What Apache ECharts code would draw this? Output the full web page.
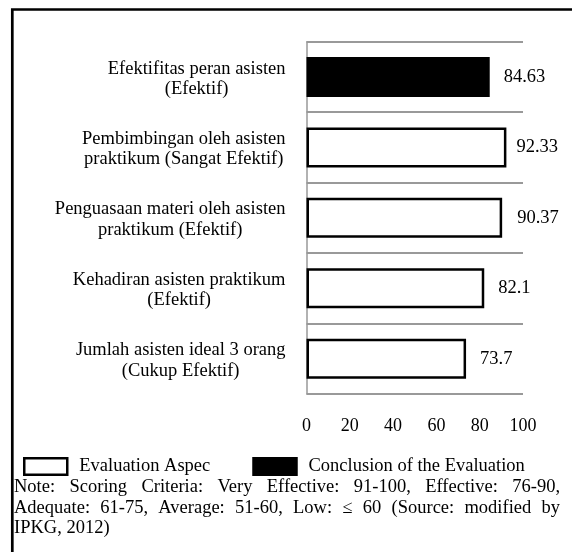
<!DOCTYPE html>
<html><head><meta charset="utf-8">
<script src="https://cdn.jsdelivr.net/npm/echarts@6/dist/echarts.min.js"></script>
<style>html,body{margin:0;padding:0;background:#fff}#c{width:572px;height:552px}</style>
</head><body><div id="c"></div>
<script>
// ---- data ----
const categories = [
  'Efektifitas peran asisten\n(Efektif)',
  'Pembimbingan oleh asisten\npraktikum (Sangat Efektif)',
  'Penguasaan materi oleh asisten\npraktikum (Efektif)',
  'Kehadiran asisten praktikum\n(Efektif)',
  'Jumlah asisten ideal 3 orang\n(Cukup Efektif)'
];
const aspectValues = ['-', 92.33, 90.37, 82.1, 73.7];
const conclusionValues = [84.63, '-', '-', '-', '-'];
const seriesNames = ['Evaluation Aspec', 'Conclusion of the Evaluation'];
const axisMin = 0, axisMax = 100, axisStep = 20;
const noteLines = [
  'Note: Scoring Criteria: Very Effective: 91-100, Effective: 76-90,',
  'Adequate: 61-75, Average: 51-60, Low: \u2264 60 (Source: modified by',
  'IPKG, 2012)'
];

// ---- styling ----
const FONT = 'Liberation Serif';
const FS = 18.5;
const labelDistances = [14, 10, 15, 14, 14];
const chart = echarts.init(document.getElementById('c'), null, {renderer: 'canvas'});

// justified note text as graphic words
const ctx = document.createElement('canvas').getContext('2d');
const noteFS = 18.5;
ctx.font = noteFS + 'px "' + FONT + '"';
const noteLeft = 14, noteRight = 560, noteTop = 478, noteLH = 20.5;
const noteEls = [];
noteLines.forEach((line, li) => {
  const words = line.split(' ');
  const widths = words.map(w => ctx.measureText(w).width);
  const total = widths.reduce((a, b) => a + b, 0);
  const justify = li < noteLines.length - 1;
  const gap = justify ? (noteRight - noteLeft - total) / (words.length - 1) : ctx.measureText(' ').width;
  let x = noteLeft;
  words.forEach((w, wi) => {
    noteEls.push({type: 'text', left: x, top: noteTop + li * noteLH,
      style: {text: w, font: noteFS + 'px "' + FONT + '"', fill: '#000'}});
    x += widths[wi] + gap;
  });
});

const labelOf = (dist) => ({show: true, position: 'right', distance: dist, fontFamily: FONT, fontSize: FS, color: '#000'});

const option = {
  animation: false,
  backgroundColor: '#fff',
  grid: {left: 306.5, top: 41.7, right: 572 - 523, bottom: 552 - 394, containLabel: false},
  legend: {
    left: 23, top: 457, padding: 0, itemWidth: 43, itemHeight: 16.5, itemGap: 42,
    icon: 'rect',
    textStyle: {fontFamily: FONT, fontSize: FS, color: '#000', padding: [10, 0, 0, 7]},
    data: [
      {name: seriesNames[0], itemStyle: {color: '#fff', borderColor: '#000', borderWidth: 2.5}},
      {name: seriesNames[1], itemStyle: {color: '#000', borderColor: '#000', borderWidth: 2.5}}
    ]
  },
  xAxis: {
    type: 'value', min: axisMin, max: axisMax, interval: axisStep,
    axisLine: {show: false}, axisTick: {show: false}, splitLine: {show: false},
    axisLabel: {fontFamily: FONT, fontSize: 18, color: '#000', margin: 23}
  },
  yAxis: {
    type: 'category', inverse: true, data: categories,
    axisLine: {show: true, lineStyle: {color: '#999', width: 1.5}},
    axisTick: {show: false},
    splitLine: {show: true, lineStyle: {color: '#999', width: 2}},
    axisLabel: {
      margin: 21, align: 'right', padding: [4, 0, 0, 0],
      formatter: v => v.split('\n').map(l => '{c|' + l + '}').join('\n'),
      rich: {c: {align: 'center', fontFamily: FONT, fontSize: FS, lineHeight: 20.5, color: '#000'}}
    }
  },
  series: [
    {
      name: seriesNames[0], type: 'bar', barWidth: 40, barGap: '-100%',
      data: aspectValues.map((v, i) => ({value: v, label: labelOf(labelDistances[i])})),
      itemStyle: {color: '#fff', borderColor: '#000', borderWidth: 2.5},
      label: labelOf(14)
    },
    {
      name: seriesNames[1], type: 'bar', barWidth: 40, barGap: '-100%',
      data: conclusionValues.map((v, i) => ({value: v, label: labelOf(labelDistances[i])})),
      itemStyle: {color: '#000', borderColor: '#000', borderWidth: 2.5},
      label: labelOf(14)
    }
  ],
  graphic: [
    {type: 'rect', shape: {x: 12.3, y: 9.5, width: 700, height: 700}, style: {fill: 'none', stroke: '#000', lineWidth: 2.7}, silent: true}
  ].concat(noteEls)
};
chart.setOption(option);
</script>
</body></html>
